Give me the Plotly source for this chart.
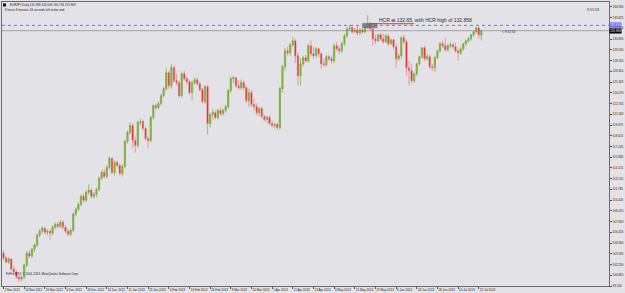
import plotly.graph_objects as go

# ---------------- data ----------------
symbol_title = "EURJPY,Daily 131.388 132.006 130.734 131.969"
timer_text = "8 hours 8 minutes 53 seconds left to bar end"
copyright_text = "FxPro MT4, \u00a9 2001-2013, MetaQuotes Software Corp."
hcr_text = "HCR at 132.65, with HCR high of 132.858"
clock_text = "9:51:53"

hcr_level = 132.65
hcr_high = 132.858
hcr_box_low = 132.30
bid_price = 131.969

opens = [
    103.68, 103.05, 102.54, 102.92, 101.66, 101.27, 100.64, 100.39, 100.64, 102.16,
    103.68, 103.30, 104.19, 104.70, 105.96, 106.47, 106.85, 106.34, 106.47, 106.22,
    106.98, 107.36, 107.10, 107.61, 106.98, 106.47, 106.09, 106.60, 108.63, 109.26,
    109.89, 110.91, 110.40, 111.41, 111.67, 110.91, 111.16, 111.79, 113.19, 113.95,
    113.44, 114.58, 115.72, 113.95, 115.22, 114.84, 113.82, 114.71, 117.88, 119.02,
    119.91, 118.00, 117.37, 120.29, 120.41, 119.53, 118.26, 118.00, 120.92, 122.44,
    122.19, 122.69, 123.71, 124.60, 126.62, 124.98, 127.26, 125.61, 125.36, 123.71,
    126.50, 125.86, 125.48, 124.09, 125.36, 125.74, 125.23, 124.47, 122.95, 124.85,
    120.16, 121.30, 121.55, 120.92, 121.81, 121.43, 121.81, 122.31, 124.34, 125.86,
    125.99, 124.98, 124.72, 125.36, 124.72, 123.07, 124.09, 122.57, 122.31, 121.55,
    122.06, 121.05, 120.67, 120.92, 120.16, 119.91, 120.03, 119.65, 124.60, 127.38,
    129.41, 129.16, 130.17, 130.68, 128.78, 126.24, 127.76, 128.52, 128.14, 130.05,
    129.03, 128.78, 129.66, 129.03, 127.76, 127.64, 128.65, 128.40, 128.14, 130.05,
    129.66, 129.41, 130.30, 131.31, 132.20, 132.33, 131.82, 132.07, 131.69, 132.07,
    131.82, 132.45, 132.83, 132.20, 130.93, 130.68, 131.44, 130.93, 130.55, 131.31,
    130.30, 130.81, 129.92, 128.40, 128.78, 131.06, 130.55, 127.26, 126.88, 125.61,
    126.50, 127.76, 128.65, 129.79, 128.40, 128.65, 127.38, 127.26, 128.52, 129.41,
    130.30, 130.05, 129.54, 130.05, 130.17, 129.92, 129.41, 129.16, 129.66, 130.30,
    130.68, 130.93, 131.44, 131.82, 132.33, 131.388,
]
highs = [
    104.06, 103.30, 103.18, 103.05, 102.03, 101.53, 100.89, 100.77, 102.29, 103.94,
    104.06, 104.32, 104.95, 106.22, 106.72, 107.10, 106.98, 106.72, 106.72, 107.23,
    107.61, 107.61, 107.87, 107.87, 107.23, 106.72, 106.85, 108.88, 109.51, 110.15,
    111.16, 111.29, 111.67, 112.43, 111.92, 111.41, 112.05, 113.44, 114.20, 114.33,
    114.84, 115.98, 115.85, 115.47, 115.47, 115.09, 114.96, 118.13, 119.27, 120.29,
    120.16, 118.51, 120.54, 120.79, 120.67, 119.78, 118.51, 121.17, 122.69, 122.69,
    122.95, 123.96, 124.85, 127.26, 126.88, 127.76, 127.51, 126.50, 125.61, 126.75,
    126.88, 126.12, 125.74, 125.61, 125.99, 125.99, 125.48, 124.72, 125.10, 125.10,
    121.55, 122.06, 121.81, 122.06, 122.19, 122.06, 122.57, 124.60, 126.12, 126.24,
    126.12, 125.61, 125.74, 125.61, 124.98, 124.60, 124.47, 123.33, 122.69, 122.31,
    122.31, 121.30, 121.17, 121.17, 120.54, 120.29, 120.29, 124.85, 127.64, 129.79,
    129.92, 130.43, 131.19, 130.93, 129.16, 128.40, 128.78, 128.90, 130.30, 130.68,
    129.92, 129.92, 129.79, 129.28, 128.40, 128.90, 128.90, 128.78, 130.30, 130.55,
    130.05, 130.55, 131.57, 132.45, 132.71, 132.58, 132.33, 132.58, 132.33, 132.33,
    132.71, 133.97, 133.09, 132.58, 131.44, 131.57, 131.69, 131.57, 131.57, 131.57,
    130.93, 130.93, 130.30, 129.03, 131.31, 131.44, 130.81, 128.14, 127.76, 126.62,
    127.89, 128.78, 129.92, 130.05, 129.03, 128.90, 127.76, 128.78, 129.54, 130.55,
    130.68, 131.06, 130.30, 130.55, 130.43, 130.43, 129.66, 129.92, 130.43, 130.81,
    131.19, 131.57, 131.95, 132.45, 132.45, 132.006,
]
lows = [
    102.80, 102.42, 102.29, 101.40, 101.02, 100.39, 100.01, 100.13, 100.39, 101.91,
    103.05, 103.05, 103.81, 104.44, 105.71, 106.22, 106.09, 105.96, 105.33, 105.96,
    106.72, 106.85, 106.85, 106.72, 106.22, 105.84, 105.84, 106.34, 108.37, 109.01,
    109.64, 110.15, 110.15, 111.16, 110.65, 110.65, 110.78, 111.54, 112.94, 113.19,
    113.19, 114.33, 113.70, 113.57, 114.58, 113.57, 113.44, 114.46, 117.62, 118.77,
    116.99, 116.48, 117.12, 119.91, 119.27, 118.00, 116.99, 117.75, 120.67, 121.93,
    121.93, 122.44, 123.45, 124.34, 124.60, 124.60, 125.36, 124.98, 123.45, 123.45,
    125.61, 125.10, 123.83, 123.07, 125.10, 124.98, 124.21, 122.69, 122.69, 118.77,
    119.65, 120.67, 120.67, 120.67, 121.17, 121.17, 121.55, 122.06, 124.09, 125.36,
    124.72, 124.47, 124.47, 124.34, 122.82, 122.31, 122.31, 121.81, 121.17, 121.05,
    120.79, 120.41, 120.16, 119.91, 119.65, 119.53, 119.40, 119.40, 124.09, 126.88,
    128.78, 128.78, 129.92, 127.89, 124.98, 124.98, 127.38, 127.89, 127.89, 128.78,
    128.40, 128.52, 128.65, 127.13, 127.38, 127.38, 128.14, 127.76, 127.89, 129.41,
    129.03, 129.16, 130.05, 131.06, 131.95, 131.57, 131.69, 131.31, 131.44, 131.57,
    131.69, 132.20, 131.95, 130.05, 130.30, 130.55, 130.68, 130.30, 130.43, 130.05,
    130.17, 129.66, 127.26, 128.14, 128.40, 130.30, 126.24, 124.98, 125.23, 125.36,
    126.24, 127.51, 128.40, 128.14, 128.14, 127.13, 126.88, 126.75, 128.40, 129.16,
    129.79, 129.28, 129.28, 129.79, 129.66, 129.16, 128.14, 128.90, 129.41, 130.05,
    130.43, 130.68, 131.19, 131.57, 130.93, 130.734,
]
closes = [
    103.05, 102.54, 102.92, 101.66, 101.27, 100.64, 100.39, 100.64, 102.16, 103.68,
    103.30, 104.19, 104.70, 105.96, 106.47, 106.85, 106.34, 106.47, 106.22, 106.98,
    107.36, 107.10, 107.61, 106.98, 106.47, 106.09, 106.60, 108.63, 109.26, 109.89,
    110.91, 110.40, 111.41, 111.67, 110.91, 111.16, 111.79, 113.19, 113.95, 113.44,
    114.58, 115.72, 113.95, 115.22, 114.84, 113.82, 114.71, 117.88, 119.02, 119.91,
    118.00, 117.37, 120.29, 120.41, 119.53, 118.26, 118.00, 120.92, 122.44, 122.19,
    122.69, 123.71, 124.60, 126.62, 124.98, 127.26, 125.61, 125.36, 123.71, 126.50,
    125.86, 125.48, 124.09, 125.36, 125.74, 125.23, 124.47, 122.95, 124.85, 120.16,
    121.30, 121.55, 120.92, 121.81, 121.43, 121.81, 122.31, 124.34, 125.86, 125.99,
    124.98, 124.72, 125.36, 124.72, 123.07, 124.09, 122.57, 122.31, 121.55, 122.06,
    121.05, 120.67, 120.92, 120.16, 119.91, 120.03, 119.65, 124.60, 127.38, 129.41,
    129.16, 130.17, 130.68, 128.78, 126.24, 127.76, 128.52, 128.14, 130.05, 129.03,
    128.78, 129.66, 129.03, 127.76, 127.64, 128.65, 128.40, 128.14, 130.05, 129.66,
    129.41, 130.30, 131.31, 132.20, 132.33, 131.82, 132.07, 131.69, 132.07, 131.82,
    132.45, 132.83, 132.20, 130.93, 130.68, 131.44, 130.93, 130.55, 131.31, 130.30,
    130.81, 129.92, 128.40, 128.78, 131.06, 130.55, 127.26, 126.88, 125.61, 126.50,
    127.76, 128.65, 129.79, 128.40, 128.65, 127.38, 127.26, 128.52, 129.41, 130.30,
    130.05, 129.54, 130.05, 130.17, 129.92, 129.41, 129.16, 129.66, 130.30, 130.68,
    130.93, 131.44, 131.82, 132.33, 131.44, 131.969,
]

date_tick_bars = list(range(0, 185, 8))
date_tick_labels = [
    "2 Nov 2012", "14 Nov 2012", "26 Nov 2012", "6 Dec 2012", "18 Dec 2012",
    "31 Dec 2012", "11 Jan 2013", "23 Jan 2013", "4 Feb 2013", "14 Feb 2013",
    "26 Feb 2013", "8 Mar 2013", "20 Mar 2013", "1 Apr 2013", "11 Apr 2013",
    "23 Apr 2013", "3 May 2013", "15 May 2013", "27 May 2013", "6 Jun 2013",
    "18 Jun 2013", "28 Jun 2013", "10 Jul 2013", "22 Jul 2013",
]
price_ticks = [
    99.500, 100.865, 102.230, 103.595, 104.960, 106.325, 107.690, 109.055,
    110.420, 111.785, 113.150, 114.515, 115.880, 117.245, 118.610, 119.975,
    121.340, 122.705, 124.070, 125.435, 126.800, 128.165, 129.530, 130.895,
    132.260, 133.625, 134.990,
]

# ---------------- styling / layout ----------------
BG = "#e2e2e7"
FONT = "Liberation Sans"
W, H = 625, 293
ML, MR, MT, MB = 1, 13, 1, 7
PW, PH = W - ML - MR, H - MT - MB

def paper_x(px):
    return (px - ML) / PW

def paper_y(py):
    return (H - MB - py) / PH

bars = list(range(len(closes)))

fig = go.Figure()
fig.add_trace(go.Candlestick(
    x=bars, open=opens, high=highs, low=lows, close=closes,
    increasing=dict(line=dict(color="#6f9a36", width=0.6), fillcolor="#86c61e"),
    decreasing=dict(line=dict(color="#e06a6a", width=0.6), fillcolor="#f01414"),
    whiskerwidth=0, hoverinfo="skip", showlegend=False,
))

shapes = [
    # HCR level (dotted blue)
    dict(type="line", xref="paper", x0=0, x1=1, yref="y", y0=hcr_level, y1=hcr_level,
         line=dict(color="#6f6ff2", width=1, dash="dot"), layer="below"),
    # bid line
    dict(type="line", xref="paper", x0=0, x1=1, yref="y", y0=bid_price, y1=bid_price,
         line=dict(color="#a2a2a6", width=1), layer="below"),
    # HCR high line (red)
    dict(type="line", xref="x", x0=141.7, x1=159, yref="y", y0=hcr_high, y1=hcr_high,
         line=dict(color="#f03030", width=1)),
    # HCR candle box
    dict(type="rect", xref="x", x0=138.9, x1=144.8, yref="y", y0=hcr_box_low, y1=hcr_high + 0.1,
         line=dict(width=0), fillcolor="rgba(95,110,130,0.75)"),
    # small marker top-left
    dict(type="rect", xref="paper", yref="paper", x0=paper_x(2), x1=paper_x(5),
         y0=paper_y(5.5), y1=paper_y(2.5), fillcolor="#111", line=dict(width=0)),
]

ann = []
def txt(text, px, py, size=3.0, color="#1a1a1a", xanchor="left"):
    ann.append(dict(text=text, xref="paper", yref="paper", x=paper_x(px), y=paper_y(py),
                    xanchor=xanchor, yanchor="middle", showarrow=False,
                    font=dict(family=FONT, size=size, color=color)))

txt(symbol_title, 7, 4.2)
txt(timer_text, 2, 9.5)
txt(copyright_text, 3, 274)
txt(clock_text, 604, 9, size=3.6, xanchor="right")
txt("< " + clock_text, 502, 31.5, size=3.2)
ann.append(dict(text=hcr_text, xref="x", yref="paper", x=144.7, y=paper_y(19.3),
                xanchor="left", yanchor="middle", showarrow=False,
                font=dict(family=FONT, size=5.0, color="#2a2a2a")))
# right-side price flags
ann.append(dict(text=f"{hcr_level:.3f}", xref="paper", yref="y", x=1.0, y=hcr_level,
                xanchor="left", yanchor="middle", showarrow=False, bgcolor="#6262ee",
                borderpad=0, yshift=0.5, font=dict(family=FONT, size=3.0, color="#ffffff")))
ann.append(dict(text=f"{bid_price:.3f}", xref="paper", yref="y", x=1.0, y=bid_price,
                xanchor="left", yanchor="middle", showarrow=False, bgcolor="#000000",
                borderpad=0, yshift=-0.5, font=dict(family=FONT, size=3.0, color="#ffffff")))

x_lo = -0.58
x_hi = x_lo + PW / 2.6
y_lo = 99.50
y_hi = 99.50 + PH * 0.12674

fig.update_layout(
    width=W, height=H,
    margin=dict(l=ML, r=MR, t=MT, b=MB, pad=0),
    paper_bgcolor=BG, plot_bgcolor=BG,
    shapes=shapes, annotations=ann,
    showlegend=False,
    xaxis=dict(range=[x_lo, x_hi], tickmode="array", tickvals=date_tick_bars,
               ticktext=date_tick_labels, ticks="outside", ticklen=2, tickwidth=1,
               tickcolor="#555", ticklabelposition="outside right", tickangle=0,
               showline=True, linecolor="#6a6a6a", linewidth=1, mirror=True,
               showgrid=False, zeroline=False, rangeslider=dict(visible=False),
               tickfont=dict(family=FONT, size=3.0, color="#222")),
    yaxis=dict(range=[y_lo, y_hi], side="right", tickmode="array", tickvals=price_ticks,
               ticktext=[f"{v:.3f}" for v in price_ticks], ticks="outside", ticklen=2,
               tickwidth=1, tickcolor="#555", showline=True, linecolor="#6a6a6a",
               linewidth=1, mirror=True, showgrid=False, zeroline=False,
               tickfont=dict(family=FONT, size=3.0, color="#222")),
)

fig.write_html("out.html")
